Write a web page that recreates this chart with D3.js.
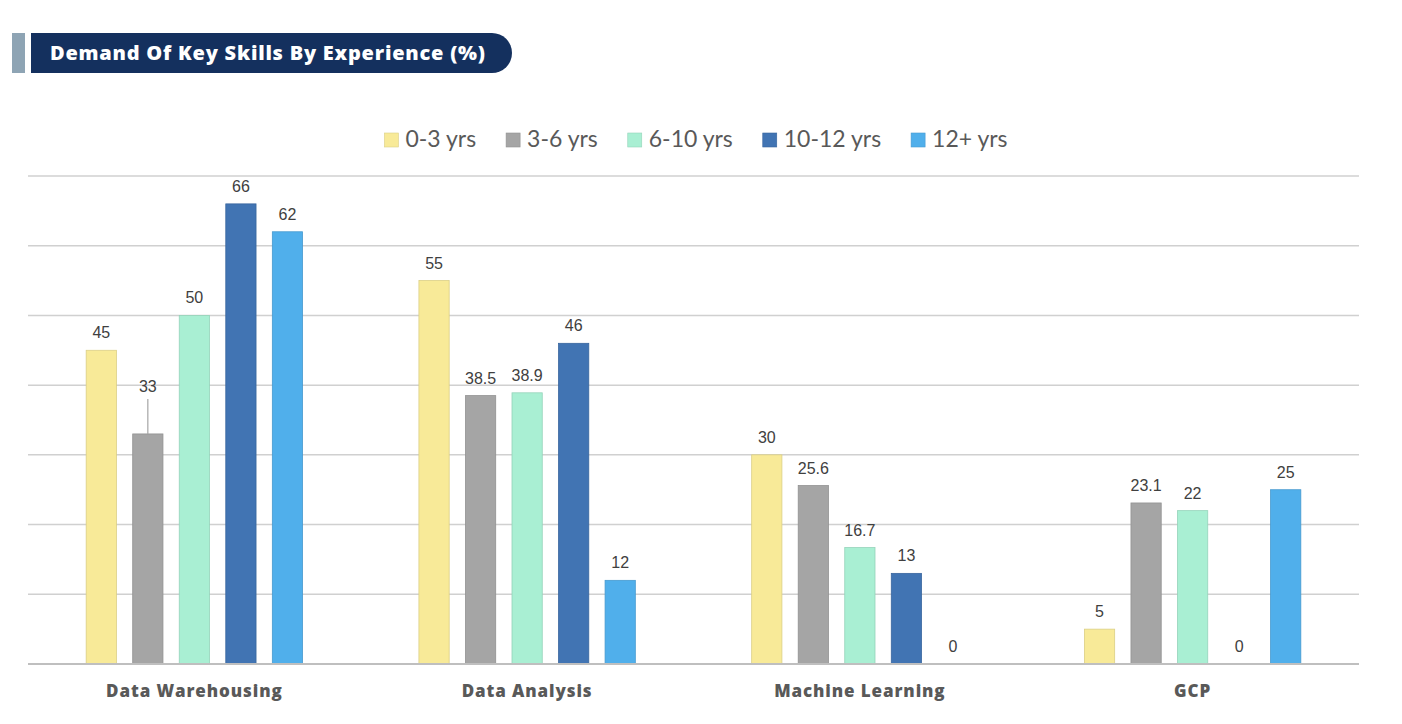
<!DOCTYPE html>
<html>
<head>
<meta charset="utf-8">
<script src="https://cdn.jsdelivr.net/npm/d3@7"></script>
<style>
  body { margin: 0; background: #fff; }
</style>
</head>
<body>
<svg width="1402" height="724"></svg>
<script>
// Data
const skills = ['Data Warehousing', 'Data Analysis', 'Machine Learning', 'GCP'];
const groups = ['0-3 yrs', '3-6 yrs', '6-10 yrs', '10-12 yrs', '12+ yrs'];
const values_0_3 = [45, 55, 30, 5];
const values_3_6 = [33, 38.5, 25.6, 23.1];
const values_6_10 = [50, 38.9, 16.7, 22];
const values_10_12 = [66, 46, 13, 0];
const values_12_plus = [62, 12, 0, 25];
const y_ticks = [0, 10, 20, 30, 40, 50, 60, 70];
const colors = ['#F8EA98', '#A5A5A5', '#A9EFD3', '#4174B3', '#50AFEB'];

const series = [values_0_3, values_3_6, values_6_10, values_10_12, values_12_plus];
const data = [];
skills.forEach((s, i) => {
    groups.forEach((g, j) => data.push({ skill: s, group: g, value: series[j][i] }));
});

// Constants
const svg = d3.select('svg');
const margin = { left: 28, right: 43, top: 176, bottom: 60 };
const plot_right = 1402 - margin.right;
const baseline = 664;

// Title
svg.append('rect')
    .attr('x', 12).attr('y', 33).attr('width', 13).attr('height', 40)
    .attr('fill', '#8EA4B4');
const tx0 = 31, tx1 = 512, ty0 = 33, ty1 = 73, r = 20;
svg.append('path')
    .attr('d', `M${tx0},${ty0} H${tx1 - r} A${r},${r} 0 0 1 ${tx1},${ty0 + r} A${r},${r} 0 0 1 ${tx1 - r},${ty1} H${tx0} Z`)
    .attr('fill', '#14305E');
svg.append('text')
    .attr('x', 50).attr('y', 60)
    .attr('fill', '#fff')
    .attr('font-family', 'Open Sans, sans-serif')
    .attr('font-weight', 800)
    .attr('font-size', '20px')
    .attr('textLength', 435)
    .attr('lengthAdjust', 'spacing')
    .text('Demand Of Key Skills By Experience (%)');

// Scales
const x0 = d3.scaleBand()
    .domain(skills)
    .range([margin.left, plot_right])
    .padding(0);
const x1 = d3.scaleBand()
    .domain(groups)
    .range([0, x0.bandwidth()])
    .paddingInner(0.35)
    .paddingOuter(1.25);
const y = d3.scaleLinear()
    .domain([0, 70])
    .range([baseline, margin.top]);
const color = d3.scaleOrdinal().domain(groups).range(colors);

// Gridlines
svg.append('g')
    .selectAll('line')
    .data(y_ticks.filter(d => d > 0))
    .enter().append('line')
    .attr('x1', margin.left).attr('x2', plot_right)
    .attr('y1', d => y(d)).attr('y2', d => y(d))
    .attr('stroke', '#D0D0D0')
    .attr('stroke-width', 1.5);

// Bars
const barG = svg.append('g');
barG.selectAll('rect')
    .data(data.filter(d => d.value > 0))
    .enter().append('rect')
    .attr('x', d => x0(d.skill) + x1(d.group))
    .attr('y', d => y(d.value))
    .attr('width', x1.bandwidth())
    .attr('height', d => baseline - y(d.value))
    .attr('fill', d => color(d.group))
    .attr('stroke', d => d3.color(color(d.group)).darker(0.35))
    .attr('stroke-width', 0.8);

// Baseline
svg.append('line')
    .attr('x1', margin.left).attr('x2', plot_right)
    .attr('y1', baseline).attr('y2', baseline)
    .attr('stroke', '#BFBFBF')
    .attr('stroke-width', 2);

// Value labels (one label is lifted with a leader line)
const lifted = { 'Data Warehousing|3-6 yrs': 30 };
const labelG = svg.append('g');
data.forEach(d => {
    const cx = x0(d.skill) + x1(d.group) + x1.bandwidth() / 2;
    const lift = lifted[d.skill + '|' + d.group] || 0;
    const ly = y(d.value) - 12 - lift;
    if (lift) {
        labelG.append('line')
            .attr('x1', cx).attr('x2', cx)
            .attr('y1', ly + 7).attr('y2', y(d.value))
            .attr('stroke', '#A5A5A5')
            .attr('stroke-width', 1.2);
    }
    labelG.append('text')
        .attr('x', cx).attr('y', ly)
        .attr('text-anchor', 'middle')
        .attr('fill', '#404040')
        .attr('font-family', 'Liberation Sans, Arial, sans-serif')
        .attr('font-size', '16px')
        .text(d.value);
});

// Category labels
svg.append('g')
    .selectAll('text')
    .data(skills)
    .enter().append('text')
    .attr('x', d => x0(d) + x0.bandwidth() / 2)
    .attr('y', 697)
    .attr('text-anchor', 'middle')
    .attr('fill', '#595959')
    .attr('font-family', 'Open Sans, sans-serif')
    .attr('font-weight', 800)
    .attr('font-size', '17px')
    .attr('letter-spacing', '0.9px')
    .text(d => d);

// Legend
const legend = svg.append('g');
let lx = 0;
groups.forEach((g, i) => {
    const item = legend.append('g').attr('transform', `translate(${lx},0)`);
    item.append('rect')
        .attr('x', 0).attr('y', -14)
        .attr('width', 14).attr('height', 14)
        .attr('fill', colors[i])
        .attr('stroke', d3.color(colors[i]).darker(0.35))
        .attr('stroke-width', 0.6);
    const t = item.append('text')
        .attr('x', 21).attr('y', 0)
        .attr('fill', '#595959')
        .attr('font-family', 'Lato, sans-serif')
        .attr('font-size', '23px')
        .text(g);
    lx += 21 + t.node().getComputedTextLength() + 30;
});
lx -= 30;
legend.attr('transform', `translate(${696 - lx / 2},147)`);
</script>
</body>
</html>
